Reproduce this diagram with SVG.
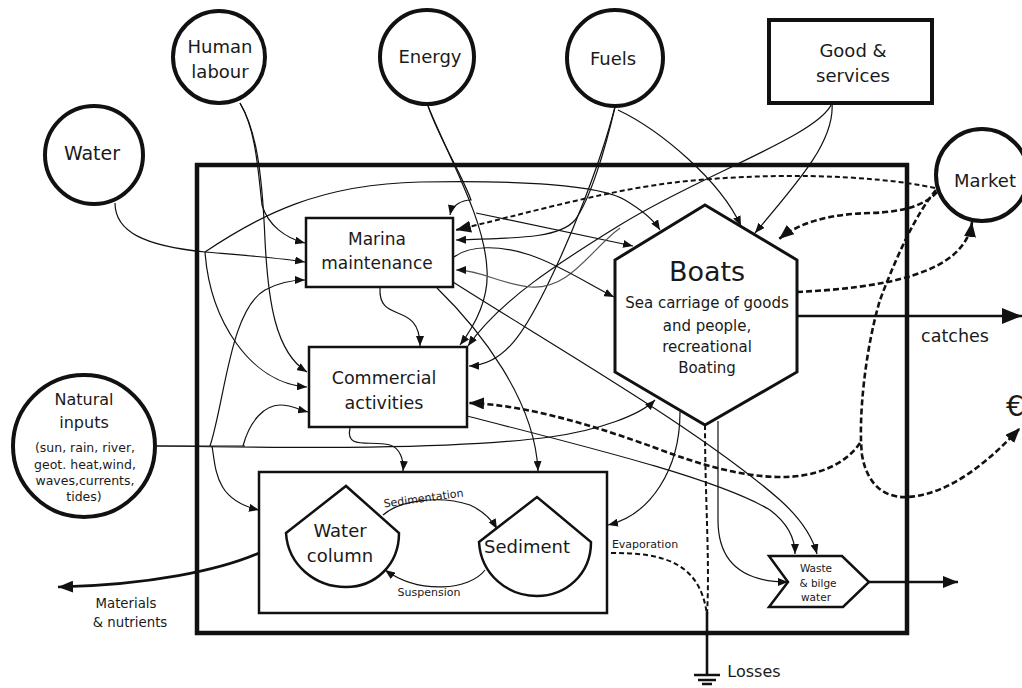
<svg xmlns="http://www.w3.org/2000/svg" width="1022" height="688" viewBox="0 0 1022 688">
<defs>
<style>
text{font-family:"DejaVu Sans","Liberation Sans",sans-serif;fill:#1a1a1a;text-anchor:middle}
.c{fill:#fff;stroke:#111;stroke-width:4}
.b{fill:#fff;stroke:#111;stroke-width:2.5}
.l{fill:none;stroke:#111;stroke-width:1.2}
.g{fill:none;stroke:#555;stroke-width:1.2}
.d{fill:none;stroke:#111;stroke-width:2;stroke-dasharray:5 3}
.dt{fill:none;stroke:#111;stroke-width:2.6;stroke-dasharray:6 3}
.t{fill:none;stroke:#111;stroke-width:2.6}
</style>
<marker id="a" markerUnits="userSpaceOnUse" markerWidth="10" markerHeight="8" refX="10" refY="4" orient="auto"><path d="M0,0L10,4L0,8z" fill="#111"/></marker>
<marker id="A" markerUnits="userSpaceOnUse" markerWidth="15" markerHeight="12" refX="15" refY="6" orient="auto"><path d="M0,0L15,6L0,12z" fill="#111"/></marker>
<marker id="C" markerUnits="userSpaceOnUse" markerWidth="20" markerHeight="16" refX="20" refY="8" orient="auto"><path d="M0,0L20,8L0,16z" fill="#111"/></marker>
</defs>
<rect width="1022" height="688" fill="#fff"/>
<g id="system-boundary"><rect x="197" y="165" width="710" height="468" fill="none" stroke="#111" stroke-width="4.5"/></g>
<g id="water-system"><rect class="b" x="259" y="472" width="348" height="141"/></g>
<g id="connectors">
<path class="l" d="M115,203 C115,232 145,246 205,252"/>
<path class="l" marker-end="url(#a)" d="M205,252 C240,255 280,258 305,262"/>
<path class="l" marker-end="url(#a)" d="M205,252 C260,215 320,184 420,182 C520,180 600,185 625,200 C645,212 655,222 660,230"/>
<path class="l" marker-end="url(#a)" d="M205,252 C210,320 250,383 307,387"/>
<path class="l" marker-end="url(#a)" d="M240,103 C256,130 258,170 262,205 C268,225 285,238 305,243"/>
<path class="l" marker-end="url(#a)" d="M240,103 C256,130 262,170 265,240 C268,300 275,352 307,372"/>
<path class="l" marker-end="url(#a)" d="M428,106 C440,140 462,175 471,200 C462,200 452,205 450,215"/>
<path class="l" marker-end="url(#a)" d="M476,213 L633,246"/>
<path class="l" marker-end="url(#a)" d="M428,106 C450,160 485,220 487,270 C489,300 475,325 460,345"/>
<path class="l" marker-end="url(#a)" d="M615,107 C605,150 590,200 575,220 C560,238 520,238 456,240"/>
<path class="l" marker-end="url(#a)" d="M615,107 C600,165 570,240 545,290 C525,330 505,365 469,366"/>
<path class="l" marker-end="url(#a)" d="M618,110 C660,130 720,180 741,226"/>
<path class="l" marker-end="url(#a)" d="M832,103 C835,140 800,180 755,233"/>
<path class="l" marker-end="url(#a)" d="M832,103 C820,135 700,175 620,225 C560,262 500,300 468,346"/>
<path class="g" marker-end="url(#a)" d="M620,228 C590,250 570,290 530,287 C500,284 480,270 456,270"/>
<path class="l" marker-end="url(#a)" d="M380,288 C378,325 420,300 420,346"/>
<path class="l" marker-end="url(#a)" d="M454,257 C470,245 500,245 530,255 C560,265 590,285 614,297"/>
<path class="l" marker-end="url(#a)" d="M437,288 C480,330 535,400 538,471"/>
<path class="l" marker-end="url(#a)" d="M453,282 C560,350 700,430 780,500 C800,518 812,535 817,554"/>
<path class="l" marker-end="url(#a)" d="M350,428 C345,450 370,440 390,445 C400,448 404,460 403,471"/>
<path class="l" marker-end="url(#a)" d="M467,416 C600,450 720,480 770,510 C790,525 795,540 795,554"/>
<path class="l" d="M157,446 L245,446"/>
<path class="l" marker-end="url(#a)" d="M157,446 C300,448 450,450 550,437 C600,430 640,415 655,400"/>
<path class="l" marker-end="url(#a)" d="M210,446 C225,400 230,310 265,290 C280,282 292,280 305,280"/>
<path class="l" marker-end="url(#a)" d="M243,446 C250,420 265,405 280,405 C292,405 300,410 308,412"/>
<path class="l" marker-end="url(#a)" d="M212,446 C216,470 215,500 259,510"/>
<path class="l" marker-end="url(#a)" d="M680,412 C680,470 650,515 608,525"/>
<path class="l" marker-end="url(#a)" d="M718,421 L718,520 C718,560 740,582 788,582"/>
<path class="l" marker-end="url(#a)" d="M383,515 C400,500 440,495 470,505 C485,512 492,520 497,529"/>
<path class="l" marker-end="url(#a)" d="M485,570 C470,590 420,595 385,570"/>
<path class="d" d="M705,425 C705,500 710,560 707,615"/>
<path class="d" d="M611,553 C660,553 700,560 707,615"/>
<path class="t" d="M707,612 L707,675"/>
<path class="t" d="M694,675 H720 M698,680 H716 M702,684 H712"/>
<path class="t" marker-end="url(#C)" d="M797,316 L1022,316"/>
<path class="t" marker-end="url(#A)" d="M869,582 L958,582"/>
<path class="t" marker-end="url(#A)" d="M259,553 C220,570 150,585 58,587"/>
<path class="d" marker-end="url(#A)" d="M935,188 C870,174 760,172 670,183 C600,192 520,215 456,230"/>
<path class="dt" marker-end="url(#A)" d="M936,190 C915,215 895,260 880,300 C865,350 858,420 862,455 C868,490 890,498 907,497 C950,495 990,460 1020,428"/>
<path class="dt" marker-end="url(#A)" d="M860,443 C845,465 815,478 777,477 C740,476 700,465 653,447 C600,428 530,405 469,403"/>
<path class="dt" marker-end="url(#A)" d="M797,292 C880,288 965,275 972,222"/>
<path class="dt" marker-end="url(#A)" d="M937,192 C925,205 905,212 870,213 C830,214 800,222 779,239"/>
</g>
<g id="human-labour"><circle class="c" cx="219" cy="57" r="46"/><text x="220" y="53" font-size="18">Human</text><text x="220" y="78" font-size="18">labour</text></g>
<g id="energy"><circle class="c" cx="427" cy="57" r="47"/><text x="430" y="63" font-size="18">Energy</text></g>
<g id="water"><circle class="c" cx="94" cy="155" r="49"/><text x="92" y="160" font-size="19">Water</text></g>
<g id="fuels"><circle class="c" cx="615" cy="58" r="48"/><text x="613" y="65" font-size="18">Fuels</text></g>
<g id="goods-services"><rect class="c" x="769" y="20" width="163" height="83"/><text x="853" y="57" font-size="18">Good &amp;</text><text x="853" y="82" font-size="18">services</text></g>
<g id="market"><circle class="c" cx="982" cy="175" r="46"/><text x="985" y="187" font-size="18">Market</text></g>
<g id="natural-inputs"><circle class="c" cx="84" cy="446" r="71"/><text x="84" y="405" font-size="16">Natural</text><text x="84" y="428" font-size="16">inputs</text><text x="85" y="452" font-size="12.5">(sun, rain, river,</text><text x="85" y="469" font-size="12.5">geot. heat,wind,</text><text x="85" y="485" font-size="12.5">waves,currents,</text><text x="84" y="501" font-size="12.5">tides)</text></g>
<g id="marina-maintenance"><rect class="b" x="306" y="218" width="147" height="69"/><text x="377" y="245" font-size="17">Marina</text><text x="377" y="269" font-size="17">maintenance</text></g>
<g id="commercial-activities"><rect class="b" x="309" y="347" width="158" height="80"/><text x="384" y="384" font-size="17.5">Commercial</text><text x="384" y="409" font-size="17.5">activities</text></g>
<g id="boats"><path fill="#fff" stroke="#111" stroke-width="3" d="M705,205 L797,260 L797,372 L705,425 L615,372 L615,260 Z"/><text x="707" y="281" font-size="27">Boats</text><text x="707" y="308" font-size="15">Sea carriage of goods</text><text x="707" y="331" font-size="15">and people,</text><text x="707" y="352" font-size="15">recreational</text><text x="707" y="373" font-size="15">Boating</text></g>
<g id="water-column"><path class="b" stroke-width="2" d="M286,533 L346,486 L399,533 C399,565 375,587 346,587 C315,587 288,565 286,533 Z"/><text x="340" y="537" font-size="18">Water</text><text x="340" y="562" font-size="18">column</text></g>
<g id="sediment"><path class="b" stroke-width="2" d="M479,542 L537,497 L591,542 C591,575 565,596 537,596 C508,596 481,575 479,542 Z"/><text x="527" y="553" font-size="18">Sediment</text></g>
<g id="waste"><path class="b" d="M769,556 L842,556 L869,582 L843,607 L769,607 L788,582 Z"/><text x="816" y="572" font-size="10.5">Waste</text><text x="818" y="587" font-size="10.5">&amp; bilge</text><text x="816" y="601" font-size="10.5">water</text></g>
<g id="labels">
<text x="424" y="502" font-size="11" transform="rotate(-8 424 502)">Sedimentation</text>
<text x="429" y="596" font-size="11">Suspension</text>
<text x="645" y="548" font-size="11">Evaporation</text>
<text x="754" y="677" font-size="16">Losses</text>
<text x="955" y="342" font-size="17.5">catches</text>
<text x="1006" y="416" font-size="28" style="text-anchor:start">€</text>
<text x="126" y="608" font-size="13.3">Materials</text>
<text x="130" y="627" font-size="13.3">&amp; nutrients</text>
</g>
</svg>
